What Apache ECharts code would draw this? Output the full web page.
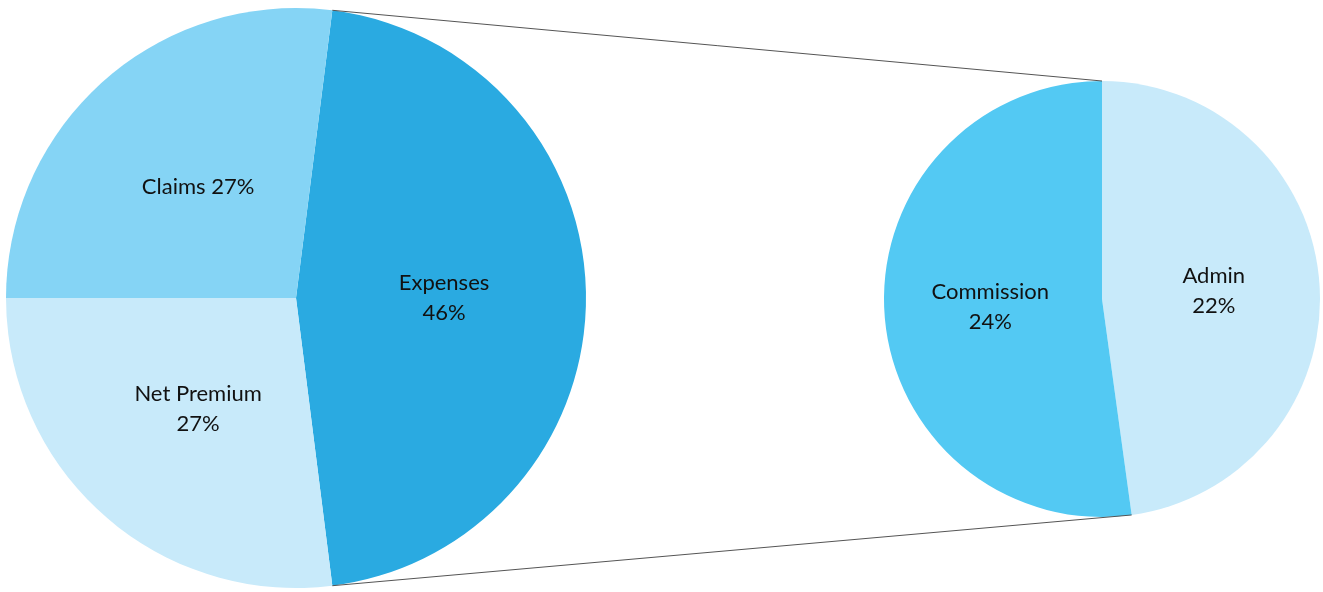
<!DOCTYPE html>
<html>
<head>
<meta charset="utf-8">
<title>Cost breakdown</title>
<script src="https://cdn.jsdelivr.net/npm/echarts@6/dist/echarts.min.js"></script>
<style>
  html, body { margin: 0; padding: 0; background: #ffffff; }
  #chart { width: 1323px; height: 592px; }
</style>
</head>
<body>
<div id="chart"></div>
<script>
// Main breakdown (percent of total)
const mainCategories = ['Expenses', 'Net Premium', 'Claims'];
const mainValues = [46, 27, 27];
const mainColors = ['#2AAAE1', '#C8EAFA', '#85D4F5'];

// Split of the Expenses slice (percent of total)
const subCategories = ['Admin', 'Commission'];
const subValues = [22, 24];
const subColors = ['#C8EAFA', '#53C9F3'];

const labelFont = 'Lato, "Open Sans", "DejaVu Sans", sans-serif';

// Rotate the main pie so the Expenses slice is centred on the 3 o'clock direction
const mainTotal = mainValues.reduce((a, b) => a + b, 0);
const expensesSpan = mainValues[0] / mainTotal * 360;
const mainStart = expensesSpan / 2;

const chart = echarts.init(document.getElementById('chart'), null, { renderer: 'canvas' });

function labelStyle(multiLine) {
  return {
    show: true,
    position: 'inside',
    color: '#111111',
    fontFamily: labelFont,
    fontSize: 22,
    lineHeight: 30,
    padding: [4, 0, 0, 0],
    formatter: p => multiLine(p.name)
      ? p.name + '\n' + Math.round(p.value) + '%'
      : p.name + ' ' + Math.round(p.value) + '%'
  };
}

chart.setOption({
  animation: false,
  backgroundColor: '#ffffff',
  series: [
    {
      type: 'pie',
      center: [296, 298],
      radius: 290,
      startAngle: mainStart,
      clockwise: true,
      avoidLabelOverlap: false,
      silent: true,
      itemStyle: { borderWidth: 0 },
      label: labelStyle(name => name !== 'Claims'),
      labelLine: { show: false },
      data: mainCategories.map((n, i) => ({ name: n, value: mainValues[i], itemStyle: { color: mainColors[i] } }))
    },
    {
      type: 'pie',
      center: [1102, 299],
      radius: 218,
      startAngle: 90,
      clockwise: true,
      avoidLabelOverlap: false,
      silent: true,
      itemStyle: { borderWidth: 0 },
      label: labelStyle(() => true),
      labelLine: { show: false },
      data: subCategories.map((n, i) => ({ name: n, value: subValues[i], itemStyle: { color: subColors[i] } }))
    }
  ]
});

// Connector lines joining the Expenses slice edges to the breakout pie
function sectorEdgePoints(seriesIndex, dataIndex) {
  const data = chart.getModel().getSeriesByIndex(seriesIndex).getData();
  const l = data.getItemLayout(dataIndex);
  return {
    start: [l.cx + l.r * Math.cos(l.startAngle), l.cy + l.r * Math.sin(l.startAngle)],
    end: [l.cx + l.r * Math.cos(l.endAngle), l.cy + l.r * Math.sin(l.endAngle)]
  };
}

const exp = sectorEdgePoints(0, 0);
const adm = sectorEdgePoints(1, 0);

chart.setOption({
  graphic: [
    {
      type: 'line', silent: true, z: 10,
      shape: { x1: exp.start[0], y1: exp.start[1], x2: adm.start[0], y2: adm.start[1] },
      style: { stroke: '#555555', lineWidth: 1 }
    },
    {
      type: 'line', silent: true, z: 10,
      shape: { x1: exp.end[0], y1: exp.end[1], x2: adm.end[0], y2: adm.end[1] },
      style: { stroke: '#555555', lineWidth: 1 }
    }
  ]
});
</script>
</body>
</html>
